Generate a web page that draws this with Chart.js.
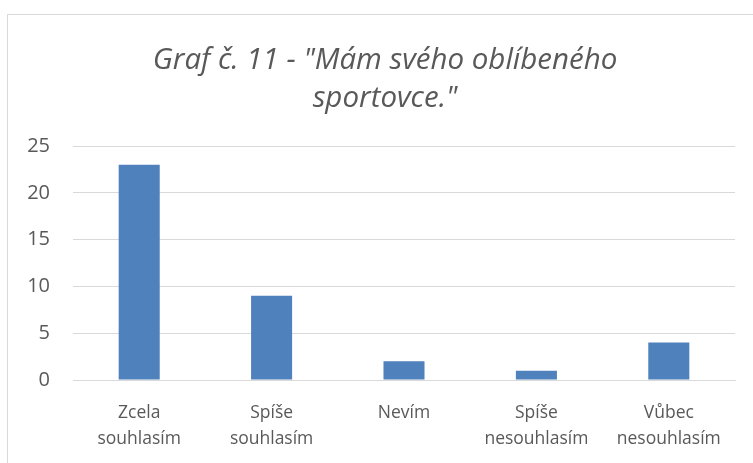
<!DOCTYPE html>
<html><head><meta charset="utf-8">
<script src="https://cdn.jsdelivr.net/npm/chart.js@4/dist/chart.umd.min.js"></script>
<style>
html,body{margin:0;padding:0;background:#fff;}
#wrap{position:absolute;left:0;top:0;width:753px;height:463px;overflow:hidden;}
#frame{position:absolute;left:7px;top:14px;width:760px;height:470px;border:1px solid #d9d9d9;box-sizing:border-box;}
canvas{position:absolute;left:0;top:0;}
#title{position:absolute;left:35px;top:39px;width:700px;text-align:center;font:italic 29.5px/38px 'Open Sans','Noto Sans',sans-serif;color:#595959;white-space:nowrap;}
</style></head>
<body>
<div id="wrap"><div id="frame"></div><canvas id="c" width="753" height="463"></canvas><div id="title"></div></div>
<script>
const categories = [["Zcela","souhlasím"],["Spíše","souhlasím"],"Nevím",["Spíše","nesouhlasím"],["Vůbec","nesouhlasím"]];
const values = [23, 9, 2, 1, 4];
const titleLines = ['Graf č. 11 - "Mám svého oblíbeného', 'sportovce."'];
const FONT = "'Open Sans','Noto Sans',sans-serif";
const t = document.getElementById('title');
titleLines.forEach((l, i) => { if (i) t.appendChild(document.createElement('br')); t.appendChild(document.createTextNode(l)); });
Chart.defaults.font.family = FONT;
new Chart(document.getElementById('c'), {
  type: 'bar',
  data: { labels: categories, datasets: [{ data: values, backgroundColor: '#4f81bd', barPercentage: 0.62, categoryPercentage: 0.5 }] },
  options: {
    responsive: false, animation: false,
    layout: { padding: { left: 0, right: 18, top: 146, bottom: 0 } },
    plugins: { legend: { display: false }, tooltip: { enabled: false }, title: { display: false } },
    scales: {
      y: { min: 0, max: 25, ticks: { stepSize: 5, color: '#595959', font: { size: 20 }, padding: 23 },
           grid: { color: '#d9d9d9', drawTicks: false }, border: { display: false },
           afterFit: s => { s.width = 73; } },
      x: { ticks: { color: '#595959', font: { size: 17.5, lineHeight: 1.49 }, padding: 20, maxRotation: 0, autoSkip: false },
           grid: { display: false, drawTicks: false }, border: { color: '#d9d9d9' },
           afterFit: s => { s.height = 83; } }
    }
  }
});
</script>
</body></html>
